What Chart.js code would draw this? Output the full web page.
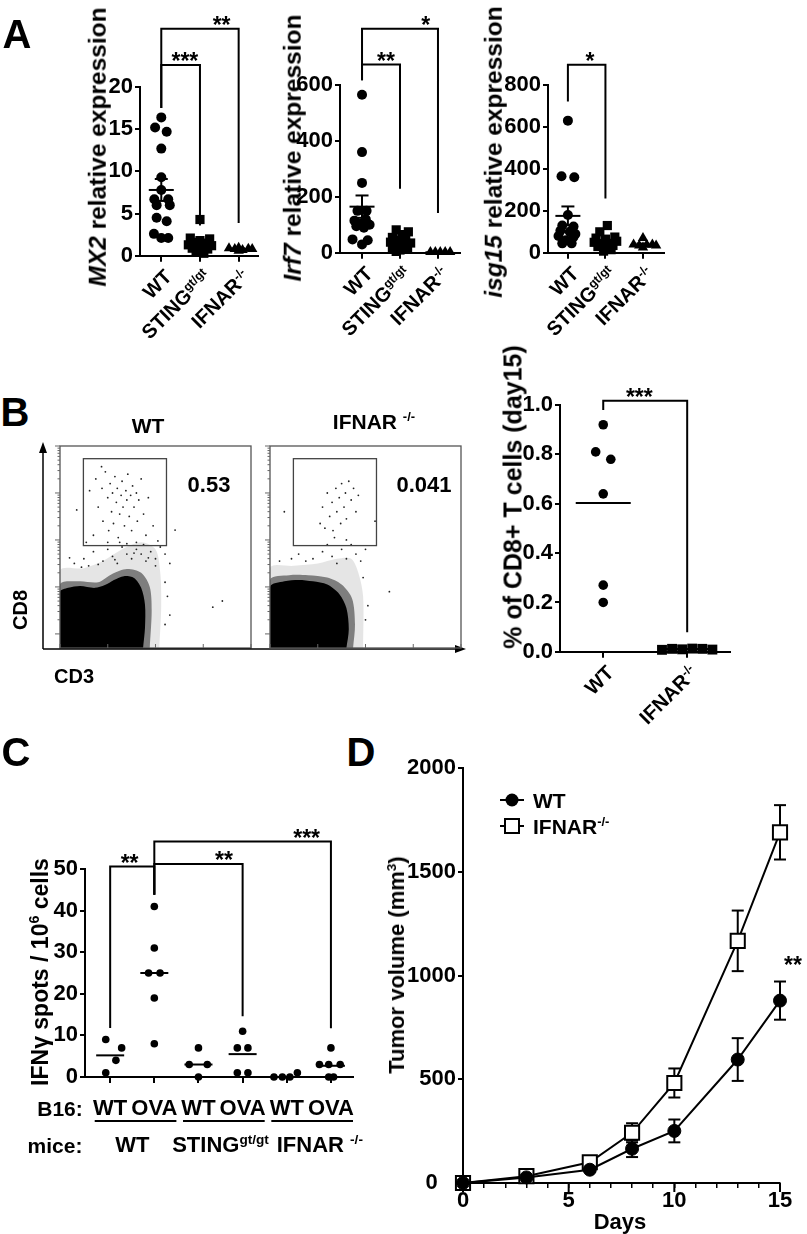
<!DOCTYPE html>
<html>
<head>
<meta charset="utf-8">
<script src="https://cdn.jsdelivr.net/npm/chart.js@4.4.1/dist/chart.umd.min.js"></script>
<style>
    body { margin: 0; width: 807px; height: 1234px; position: relative; overflow: hidden; background: #fff; font-family: "Liberation Sans", Arial, sans-serif; }
    canvas { position: absolute; }
    .t { position: absolute; white-space: nowrap; font-weight: bold; color: #000; line-height: 1; }
    .t sup { font-size: 0.62em; vertical-align: 0; position: relative; top: -0.6em; }
</style>
</head>
<body>
<script>
// ---- Panel A: [offset inside group, value] ----
const mx2Wt = [[0, 16.4], [-0.16, 15.2], [0.14, 14.7], [0, 12.7], [0, 9.3], [0, 7.8], [-0.18, 6.7], [0.18, 6.7], [-0.12, 6.0], [0.22, 6.0], [-0.12, 4.5], [0.14, 4.1], [-0.19, 2.6], [0, 2.1], [0.18, 2.1]];
const mx2Sting = [[0, 4.3], [-0.25, 2.1], [0.25, 2.0], [0, 1.8], [-0.15, 1.6], [0.15, 1.5], [-0.3, 1.3], [0.3, 1.2], [0, 1.1], [-0.2, 0.9], [0.2, 0.8], [0, 0.6], [-0.1, 0.4], [0.1, 0.3]];
const mx2Ifnar = [[-0.25, 0.9], [-0.1, 0.8], [0, 0.95], [0.1, 0.7], [0.25, 0.85], [0.35, 0.8], [0, 0.6]];
const mx2Mean = [7.8, 1.45, 0.8];
const mx2Sem = [1.3, 0.3, 0.08];

const irf7Wt = [[0, 565], [0, 360], [0, 250], [-0.12, 150], [0.12, 150], [-0.2, 115], [0.1, 120], [-0.05, 105], [0.2, 100], [-0.15, 95], [0.05, 90], [-0.25, 48], [0.15, 45], [0, 30]];
const irf7Sting = [[-0.1, 82], [0.22, 75], [0.05, 65], [-0.2, 55], [0.15, 50], [0, 45], [-0.25, 38], [0.28, 35], [-0.1, 30], [0.1, 25], [-0.2, 18], [0.2, 15], [0, 10], [-0.1, 5]];
const irf7Ifnar = [[-0.2, 3], [-0.07, 3], [0.06, 3], [0.19, 3], [0.32, 3]];
const irf7Mean = [165, 34, 2];
const irf7Sem = [40, 7, 0];

const isgWt = [[0, 630], [-0.17, 365], [0.17, 360], [0, 180], [-0.15, 130], [0.15, 125], [-0.2, 105], [0.05, 100], [0.2, 90], [-0.25, 80], [0.15, 75], [-0.05, 60], [-0.15, 45], [0.1, 45]];
const isgSting = [[0.05, 130], [-0.15, 100], [0.25, 75], [-0.25, 70], [0, 65], [0.3, 55], [-0.3, 50], [0.1, 45], [-0.1, 40], [0.2, 35], [-0.2, 30], [0, 25], [0.15, 15], [-0.05, 8]];
const isgIfnar = [[0, 70], [-0.25, 40], [-0.1, 35], [0.1, 38], [0.25, 40], [0.35, 35], [0, 25]];
const isgMean = [176, 52, 38];
const isgSem = [45, 9, 6];

const groupsA = ['WT', 'STING<sup>gt/gt</sup>', 'IFNAR<sup>-/-</sup>'];

// brackets: [from, to, top, fromEnd, toEnd, label, labelX]
const mx2Brackets = [[0, 1, 22.6, 17.5, 3.6, '***', 0.61], [0, 2, 26.9, 17.5, 3.9, '**', 1.56]];
const irf7Brackets = [[0, 1, 673, 617, 229, '**', 0.63], [0, 2, 801, 617, 142, '*', 1.68]];
const isgBrackets = [[0, 1, 897, 721, 259, '*', 0.59]];

// ---- Panel B ----
const cd8Wt = [[0, 0.92], [-0.09, 0.81], [0.09, 0.78], [0, 0.64], [0, 0.27], [0, 0.20]];
const cd8Ifnar = [[-0.3, 0.008], [-0.18, 0.012], [-0.06, 0.010], [0.06, 0.013], [0.18, 0.012], [0.3, 0.009]];
const cd8Mean = [0.603, 0.011];
const cd8Brackets = [[0, 1, 1.017, 0.98, 0.079, '***', 0.43]];
const groupsB = ['WT', 'IFNAR<sup>-/-</sup>'];

// flow plots, axes in decades (CD3 x, CD8 y)
const wtCore = [[0, -0.3], [0, 0.89], [0.17, 0.98], [0.42, 1.02], [0.73, 0.98], [0.94, 1.04], [1.13, 1.15], [1.34, 1.23], [1.55, 1.19], [1.7, 0.98], [1.78, 0.62], [1.78, 0.13], [1.74, -0.3]];
const wtMid = [[0, -0.3], [0, 1.05], [0.4, 1.12], [0.8, 1.1], [1.1, 1.28], [1.4, 1.38], [1.7, 1.3], [1.88, 1.0], [1.92, 0.5], [1.88, -0.3]];
const wtOuter = [[0, -0.3], [0, 1.35], [0.5, 1.4], [0.9, 1.55], [1.3, 1.8], [1.7, 1.95], [2.0, 1.8], [2.1, 1.3], [2.12, 0.6], [2.08, -0.3]];
const wtDots = [[0.62, 3.05], [0.75, 3.3], [0.8, 2.7], [0.88, 3.1], [0.9, 2.4], [0.95, 3.45], [1.0, 2.9], [1.02, 2.2], [1.05, 3.2], [1.08, 2.6], [1.1, 3.0], [1.12, 2.35], [1.15, 3.35], [1.18, 2.8], [1.2, 3.1], [1.22, 2.05], [1.25, 2.55], [1.28, 2.95], [1.3, 3.25], [1.32, 2.7], [1.35, 2.3], [1.38, 3.05], [1.4, 2.85], [1.42, 3.4], [1.45, 2.5], [1.48, 2.95], [1.5, 2.2], [1.52, 3.15], [1.55, 2.7], [1.6, 3.0], [1.62, 2.4], [1.65, 2.85], [1.7, 3.3], [1.75, 2.55], [1.8, 2.1], [1.85, 2.9], [1.95, 2.3], [2.05, 1.98], [0.7, 2.1], [0.55, 1.95], [1.0, 1.95], [1.4, 1.92], [1.6, 1.95], [0.87, 3.56], [2.41, 2.21], [0.35, 2.64],
    [0.5, 1.6], [0.7, 1.75], [0.9, 1.55], [1.0, 1.8], [1.1, 1.65], [1.2, 1.5], [1.3, 1.85], [1.4, 1.7], [1.5, 1.6], [1.6, 1.8], [1.7, 1.7], [1.8, 1.55], [1.9, 1.75], [2.0, 1.6], [2.1, 1.85], [2.2, 1.7], [1.25, 1.95], [0.6, 1.45], [2.3, 1.5], [1.75, 1.9], [3.2, 0.57], [3.4, 0.7],
    [0.3, 1.5], [0.2, 1.62], [0.45, 1.42], [0.8, 1.48], [1.15, 1.58], [1.55, 1.72], [1.85, 1.62], [2.0, 1.45], [2.2, 1.1], [2.25, 0.8], [2.3, 0.4], [2.2, 0.2]];
const ifCore = [[0, -0.3], [0, 1.0], [0.3, 1.12], [0.6, 1.15], [0.9, 1.12], [1.2, 1.05], [1.45, 0.85], [1.6, 0.55], [1.65, 0.1], [1.6, -0.3]];
const ifMid = [[0, -0.3], [0, 1.15], [0.4, 1.25], [0.8, 1.25], [1.2, 1.2], [1.5, 1.05], [1.72, 0.75], [1.78, 0.2], [1.74, -0.3]];
const ifOuter = [[0, -0.3], [0, 1.4], [0.5, 1.45], [1.0, 1.5], [1.4, 1.6], [1.7, 1.6], [1.85, 1.3], [1.95, 0.8], [1.95, -0.3]];
const ifDots = [[1.05, 2.35], [1.1, 2.7], [1.15, 2.25], [1.2, 3.0], [1.25, 2.5], [1.3, 2.8], [1.32, 2.2], [1.38, 3.1], [1.4, 2.6], [1.45, 2.9], [1.48, 2.35], [1.5, 3.2], [1.55, 2.7], [1.58, 3.0], [1.6, 2.45], [1.65, 3.25], [1.7, 2.85], [1.75, 3.1], [1.8, 2.6], [1.85, 2.95], [1.35, 2.05], [1.6, 2.0], [0.3, 2.6], [2.2, 2.4],
    [0.9, 1.6], [1.1, 1.75], [1.3, 1.65], [1.5, 1.8], [1.6, 1.6], [1.7, 1.9], [1.8, 1.7], [1.9, 1.55], [1.2, 1.9], [0.6, 1.7], [2.0, 1.8], [2.5, 0.9],
    [0.2, 1.55], [0.45, 1.6], [0.75, 1.55], [1.4, 1.5], [1.95, 1.2], [2.05, 0.6], [2.0, 0.3]];
const gateX = [0.49, 2.23];
const gateY = [1.88, 3.73];
const decades = [0, 1, 2, 3, 4];

// ---- Panel C ----
const ifng = [
    [[-0.1, 9], [0.26, 7], [0.13, 4], [-0.1, 1]],
    [[0, 41], [0, 31], [-0.13, 25], [0.13, 25], [0, 19], [0, 8]],
    [[0, 7], [-0.21, 3], [0.2, 3], [0, 0]],
    [[0, 11], [-0.12, 7], [0.12, 7], [-0.12, 1], [0.12, 1]],
    [[-0.29, 0], [-0.1, 0], [0.07, 0], [0.24, 1]],
    [[0, 7], [-0.26, 3], [-0.05, 3], [0.21, 3], [-0.05, 0], [0.06, 0]]
];
const ifngMedian = [5.2, 25, 3, 5.5, 0, 2.7];
const ifngBrackets = [[0, 1, 50.6, 11.8, 43.8, '**', 0.44], [1, 3, 51.2, 43.8, 14.6, '**', 2.58], [1, 5, 56.6, 43.8, 11.7, '***', 4.45]];
const b16 = ['WT', 'OVA', 'WT', 'OVA', 'WT', 'OVA'];
const mice = ['WT', 'STING<sup>gt/gt</sup>', 'IFNAR <sup>-/-</sup>'];

// ---- Panel D ----
const days = [0, 3, 6, 8, 10, 13, 15];
const wtVol = [0, 27, 64, 165, 251, 595, 879];
const wtErr = [0, 5, 10, 40, 55, 103, 92];
const ifnarVol = [0, 33, 100, 242, 482, 1167, 1690];
const ifnarErr = [0, 5, 12, 46, 70, 146, 131];
const dayTicks = [0, 5, 10, 15];

const FAMILY = '"Liberation Sans", Arial, sans-serif';

function label(html, x, y, size, opts = {}) {
    const d = document.createElement('div');
    d.className = 't';
    d.innerHTML = html;
    d.style.fontSize = size + 'px';
    d.style.left = x + 'px';
    d.style.top = y + 'px';
    const rot = opts.rot || 0;
    if (opts.anchor === 'right') {
        d.style.transformOrigin = '100% 50%';
        d.style.transform = `translate(-100%,-50%) rotate(${rot}deg)`;
    } else if (opts.anchor === 'left') {
        d.style.transformOrigin = '0 50%';
        d.style.transform = `translate(0,-50%) rotate(${rot}deg)`;
    } else {
        d.style.transform = `translate(-50%,-50%) rotate(${rot}deg)`;
    }
    document.body.appendChild(d);
}

function seg(ctx, x1, y1, x2, y2) {
    ctx.beginPath();
    ctx.moveTo(x1, y1);
    ctx.lineTo(x2, y2);
    ctx.stroke();
}

// canvas placed so that the chart area lands on `area` (page pixels)
function makeChart(area, margin, config, decor) {
    const c = document.createElement('canvas');
    const w = area.r - area.l + margin.l + margin.r;
    const h = area.b - area.t + margin.t + margin.b;
    const left = area.l - margin.l, top = area.t - margin.t;
    c.width = w;
    c.height = h;
    c.style.left = left + 'px';
    c.style.top = top + 'px';
    c.style.width = w + 'px';
    c.style.height = h + 'px';
    document.body.appendChild(c);

    const opt = config.options;
    opt.responsive = false;
    opt.animation = false;
    opt.devicePixelRatio = 1;
    opt.events = [];
    opt.layout = { padding: { left: 0, top: margin.t, right: margin.r, bottom: 0 } };
    opt.plugins = { legend: { display: false }, tooltip: { enabled: false } };
    opt.scales.x.afterFit = s => { s.height = margin.b; };
    opt.scales.y.afterFit = s => { s.width = margin.l; };
    decor = decor || {};
    config.plugins = [{
        id: 'decor',
        beforeDatasetsDraw(chart) {
            if (!decor.before) return;
            chart.ctx.save();
            decor.before(chart, chart.ctx, left, top);
            chart.ctx.restore();
        },
        afterDatasetsDraw(chart) {
            if (!decor.after) return;
            chart.ctx.save();
            decor.after(chart, chart.ctx, left, top);
            chart.ctx.restore();
        }
    }];
    const chart = new Chart(c, config);
    chart.pageX = v => left + chart.scales.x.getPixelForValue(v);
    chart.pageY = v => top + chart.scales.y.getPixelForValue(v);
    return chart;
}

function yAxis(max, step, fmt) {
    return {
        min: 0, max: max,
        ticks: { stepSize: step, color: '#000', font: { family: FAMILY, size: 22, weight: 'bold' }, padding: 2, callback: fmt || (v => v) },
        grid: { display: true, drawOnChartArea: false, drawTicks: true, tickLength: 5, color: '#000', lineWidth: 2 },
        border: { display: true, color: '#000', width: 2 }
    };
}

function xCatAxis(min, max, cats) {
    return {
        type: 'linear', min: min, max: max,
        afterBuildTicks: s => { s.ticks = cats.map(v => ({ value: v })); },
        ticks: { display: false },
        grid: { display: true, drawOnChartArea: false, drawTicks: true, tickLength: 6, color: '#000', lineWidth: 2 },
        border: { display: true, color: '#000', width: 2 }
    };
}

function meanDecor(mean, sem, half, cap, brackets) {
    return {
        after(chart, ctx) {
            const xs = chart.scales.x, ys = chart.scales.y;
            ctx.strokeStyle = '#000';
            ctx.lineWidth = 2;
            mean.forEach((m, i) => {
                const x = xs.getPixelForValue(i), y = ys.getPixelForValue(m);
                seg(ctx, x - half, y, x + half, y);
                if (sem && sem[i]) {
                    const y1 = ys.getPixelForValue(m + sem[i]), y2 = ys.getPixelForValue(m - sem[i]);
                    seg(ctx, x, y1, x, y2);
                    seg(ctx, x - cap, y1, x + cap, y1);
                    seg(ctx, x - cap, y2, x + cap, y2);
                }
            });
            brackets.forEach(b => {
                const x1 = xs.getPixelForValue(b[0]), x2 = xs.getPixelForValue(b[1]);
                const yt = ys.getPixelForValue(b[2]);
                ctx.beginPath();
                ctx.moveTo(x1, ys.getPixelForValue(b[3]));
                ctx.lineTo(x1, yt);
                ctx.lineTo(x2, yt);
                ctx.lineTo(x2, ys.getPixelForValue(b[4]));
                ctx.stroke();
            });
        }
    };
}

function dotSets(groups) {
    return groups.map((g, i) => ({
        type: 'scatter',
        data: g.pts.map(p => ({ x: i + p[0], y: p[1] })),
        pointStyle: g.style,
        pointRadius: g.r,
        backgroundColor: '#000',
        borderColor: '#000',
        borderWidth: 0,
        clip: false
    }));
}

function stars(chart, brackets) {
    brackets.forEach(b => label(b[5], chart.pageX(b[6]), chart.pageY(b[2]) - 4, 23));
}

function xLabels(chart, names) {
    names.forEach((n, i) => label(n, chart.pageX(i) + 7, chart.pageY(0) + 17, 20, { anchor: 'right', rot: -45 }));
}

// ---------------- Panel A ----------------
function panelA(area, xr, yMax, step, pts, mean, sem, brackets) {
    const ch = makeChart(area, { l: 60, t: 80, r: 15, b: 10 }, {
        type: 'scatter',
        data: { datasets: dotSets([
            { pts: pts[0], style: 'circle', r: 5 },
            { pts: pts[1], style: 'rect', r: 6.5 },
            { pts: pts[2], style: 'triangle', r: 6 }
        ]) },
        options: { scales: { x: xCatAxis(xr[0], xr[1], [0, 1, 2]), y: yAxis(yMax, step) } }
    }, meanDecor(mean, sem, 12.5, 6.5, brackets));
    stars(ch, brackets);
    xLabels(ch, groupsA);
    return ch;
}

panelA({ l: 140, t: 87, r: 258, b: 261 }, [-0.55, 2.5], 20, 5, [mx2Wt, mx2Sting, mx2Ifnar], mx2Mean, mx2Sem, mx2Brackets);
panelA({ l: 340, t: 85, r: 460, b: 258 }, [-0.58, 2.58], 600, 200, [irf7Wt, irf7Sting, irf7Ifnar], irf7Mean, irf7Sem, irf7Brackets);
panelA({ l: 548, t: 85, r: 664, b: 258 }, [-0.53, 2.56], 800, 200, [isgWt, isgSting, isgIfnar], isgMean, isgSem, isgBrackets);

label('A', 17, 34, 40);
label('<i>MX2</i> relative expression', 98, 147, 24.5, { rot: -90 });
label('<i>Irf7</i> relative expression', 293, 148, 24.5, { rot: -90 });
label('<i>isg15</i> relative expression', 494, 152, 24.5, { rot: -90 });

// ---------------- Panel B: flow plots ----------------
function flowDecor(withArrows) {
    return {
        after(chart, ctx, ox, oy) {
            const xs = chart.scales.x, ys = chart.scales.y, a = chart.chartArea;
            ctx.strokeStyle = '#555';
            ctx.lineWidth = 1.3;
            ctx.strokeRect(a.left, a.top, a.right - a.left, a.bottom - a.top);
            ctx.strokeStyle = '#444';
            ctx.strokeRect(xs.getPixelForValue(gateX[0]), ys.getPixelForValue(gateY[1]),
                xs.getPixelForValue(gateX[1]) - xs.getPixelForValue(gateX[0]),
                ys.getPixelForValue(gateY[0]) - ys.getPixelForValue(gateY[1]));
            ctx.strokeStyle = '#666';
            ctx.lineWidth = 1;
            decades.forEach(d => {
                const y = ys.getPixelForValue(d);
                seg(ctx, a.left - 5, y, a.left, y);
                const x = xs.getPixelForValue(d);
                seg(ctx, x, a.bottom, x, a.bottom - 4);
                if (d < 4) {
                    for (let k = 2; k < 10; k++) {
                        const ym = ys.getPixelForValue(d + Math.log10(k));
                        seg(ctx, a.left - 2.5, ym, a.left, ym);
                    }
                }
            });
            if (withArrows) {
                ctx.strokeStyle = '#000';
                ctx.fillStyle = '#000';
                ctx.lineWidth = 1.5;
                const vx = 43 - ox, hy = 649 - oy;
                seg(ctx, vx, hy, vx, 448 - oy);
                ctx.beginPath();
                ctx.moveTo(vx, 442 - oy); ctx.lineTo(vx - 4, 453 - oy); ctx.lineTo(vx + 4, 453 - oy); ctx.closePath(); ctx.fill();
                seg(ctx, vx, hy, 460 - ox, hy);
                ctx.beginPath();
                ctx.moveTo(466 - ox, hy); ctx.lineTo(455 - ox, hy - 4); ctx.lineTo(455 - ox, hy + 4); ctx.closePath(); ctx.fill();
            }
        }
    };
}

function flowSets(core, mid, outer, dots) {
    const poly = (pts, color) => ({
        type: 'line',
        data: pts.map(p => ({ x: p[0], y: p[1] })),
        fill: 'shape',
        backgroundColor: color,
        borderColor: color,
        borderWidth: 0,
        pointRadius: 0,
        tension: 0.3
    });
    return [
        { type: 'scatter', data: dots.map(p => ({ x: p[0], y: p[1] })), pointRadius: 0.9, backgroundColor: '#222', borderWidth: 0 },
        poly(core, '#000'),
        poly(mid, 'rgba(0,0,0,0.45)'),
        poly(outer, 'rgba(0,0,0,0.1)')
    ];
}

function flowAxis(min, max) {
    return {
        type: 'linear', min: min, max: max,
        ticks: { display: false },
        grid: { display: false },
        border: { display: false }
    };
}

makeChart({ l: 60, t: 446, r: 251, b: 648 }, { l: 60, t: 10, r: 220, b: 10 }, {
    type: 'scatter',
    data: { datasets: flowSets(wtCore, wtMid, wtOuter, wtDots) },
    options: { scales: { x: flowAxis(0, 4), y: flowAxis(-0.3, 4) } }
}, flowDecor(true));

makeChart({ l: 270, t: 446, r: 461, b: 648 }, { l: 10, t: 10, r: 10, b: 10 }, {
    type: 'scatter',
    data: { datasets: flowSets(ifCore, ifMid, ifOuter, ifDots) },
    options: { scales: { x: flowAxis(0, 4), y: flowAxis(-0.3, 4) } }
}, flowDecor(false));

label('B', 15, 412, 40);
label('WT', 148, 425, 21);
label('IFNAR <sup>-/-</sup>', 374, 421, 21);
label('0.53', 209, 485, 22);
label('0.041', 424, 485, 22);
label('CD8', 20, 610, 20, { rot: -90 });
label('CD3', 74, 676, 20);

// ---------------- Panel B: CD8 dot plot ----------------
const chB = makeChart({ l: 560, t: 405, r: 730, b: 657 }, { l: 50, t: 30, r: 15, b: 10 }, {
    type: 'scatter',
    data: { datasets: dotSets([
        { pts: cd8Wt, style: 'circle', r: 4.8 },
        { pts: cd8Ifnar, style: 'rect', r: 7 }
    ]) },
    options: { scales: { x: xCatAxis(-0.515, 1.51, [0, 1]), y: yAxis(1, 0.2, v => v.toFixed(1)) } }
}, meanDecor(cd8Mean, null, 27.5, 0, cd8Brackets));
stars(chB, cd8Brackets);
xLabels(chB, groupsB);
label('% of CD8+ T cells (day15)', 513, 497, 25, { rot: -90 });

// ---------------- Panel C ----------------
const cDecor = meanDecor(ifngMedian, null, 14, 0, ifngBrackets);
const cAfter = cDecor.after;
cDecor.after = (chart, ctx, ox, oy) => {
    cAfter(chart, ctx);
    const xs = chart.scales.x, y = chart.scales.y.getPixelForValue(0) + 44;
    ctx.strokeStyle = '#000';
    ctx.lineWidth = 2;
    [0, 2, 4].forEach(g => seg(ctx, xs.getPixelForValue(g - 0.35), y, xs.getPixelForValue(g + 1.5), y));
};
const chC = makeChart({ l: 85, t: 869, r: 353, b: 1077 }, { l: 50, t: 50, r: 15, b: 80 }, {
    type: 'scatter',
    data: { datasets: ifng.map((g, i) => ({
        type: 'scatter',
        data: g.map(p => ({ x: i + p[0], y: p[1] })),
        pointStyle: 'circle', pointRadius: 3.8,
        backgroundColor: '#000', borderWidth: 0, clip: false
    })) },
    options: { scales: { x: xCatAxis(-0.57, 5.5, [0, 1, 2, 3, 4, 5]), y: yAxis(50, 10) } }
}, cDecor);
stars(chC, ifngBrackets);
label('C', 16, 752, 40);
label('IFNγ spots / 10<sup>6</sup> cells', 40, 972, 23, { rot: -90 });
label('B16:', 60, 1108, 21);
b16.forEach((t, i) => label(t, chC.pageX(i), 1108, 22));
label('mice:', 55, 1145, 21);
mice.forEach((t, i) => label(t, chC.pageX(2 * i + 0.5) + (i === 2 ? 11 : 0), 1145, 22));

// ---------------- Panel D ----------------
const dDecor = {
    before(chart, ctx) {
        const xs = chart.scales.x, ys = chart.scales.y;
        ctx.strokeStyle = '#000';
        ctx.lineWidth = 2;
        [[wtVol, wtErr], [ifnarVol, ifnarErr]].forEach(([v, e]) => {
            days.forEach((d, i) => {
                if (!e[i]) return;
                const x = xs.getPixelForValue(d);
                const y1 = ys.getPixelForValue(v[i] + e[i]), y2 = ys.getPixelForValue(v[i] - e[i]);
                seg(ctx, x, y1, x, y2);
                seg(ctx, x - 6, y1, x + 6, y1);
                seg(ctx, x - 6, y2, x + 6, y2);
            });
        });
    },
    after(chart, ctx, ox, oy) {
        const xs = chart.scales.x, a = chart.chartArea;
        ctx.strokeStyle = '#000';
        ctx.lineWidth = 2;
        dayTicks.forEach(d => {
            const x = xs.getPixelForValue(d);
            seg(ctx, x, a.bottom, x, a.bottom + 9);
        });
        // legend
        ctx.fillStyle = '#000';
        const lx = 512 - ox;
        seg(ctx, lx - 12, 800 - oy, lx + 12, 800 - oy);
        ctx.beginPath();
        ctx.arc(lx, 800 - oy, 6.5, 0, Math.PI * 2);
        ctx.fill();
        seg(ctx, lx - 12, 826 - oy, lx + 12, 826 - oy);
        ctx.fillStyle = '#fff';
        ctx.fillRect(lx - 7, 819 - oy, 14, 14);
        ctx.strokeRect(lx - 7, 819 - oy, 14, 14);
    }
};
makeChart({ l: 463, t: 768, r: 780, b: 1183 }, { l: 70, t: 30, r: 25, b: 40 }, {
    type: 'line',
    data: { datasets: [
        {
            data: days.map((d, i) => ({ x: d, y: wtVol[i] })),
            borderColor: '#000', borderWidth: 2, tension: 0, clip: false,
            pointStyle: 'circle', pointRadius: 6.5, pointBackgroundColor: '#000', pointBorderColor: '#000', pointBorderWidth: 1
        },
        {
            data: days.map((d, i) => ({ x: d, y: ifnarVol[i] })),
            borderColor: '#000', borderWidth: 2, tension: 0, clip: false,
            pointStyle: 'rect', pointRadius: 10, pointBackgroundColor: '#fff', pointBorderColor: '#000', pointBorderWidth: 2
        }
    ] },
    options: { scales: {
        x: {
            type: 'linear', min: 0, max: 15,
            afterBuildTicks: s => { s.ticks = Array.from({ length: 16 }, (_, i) => ({ value: i })); },
            ticks: { color: '#000', font: { family: FAMILY, size: 22, weight: 'bold' }, padding: 0, maxRotation: 0, autoSkip: false,
                callback: v => dayTicks.includes(v) ? String(v) : '' },
            grid: { display: true, drawOnChartArea: false, drawTicks: true, tickLength: 5, color: '#000', lineWidth: 1.5 },
            border: { display: true, color: '#000', width: 2 }
        },
        y: yAxis(2000, 500, v => v === 0 ? '0   ' : v)
    } }
}, dDecor);
label('D', 361, 752, 40);
label('WT', 533, 800, 21, { anchor: 'left' });
label('IFNAR<sup>-/-</sup>', 533, 826, 21, { anchor: 'left' });
label('**', 793, 965, 23);
label('Tumor volume (mm<sup>3</sup>)', 397, 965, 22, { rot: -90 });
label('Days', 620, 1222, 22);
</script>
</body>
</html>
